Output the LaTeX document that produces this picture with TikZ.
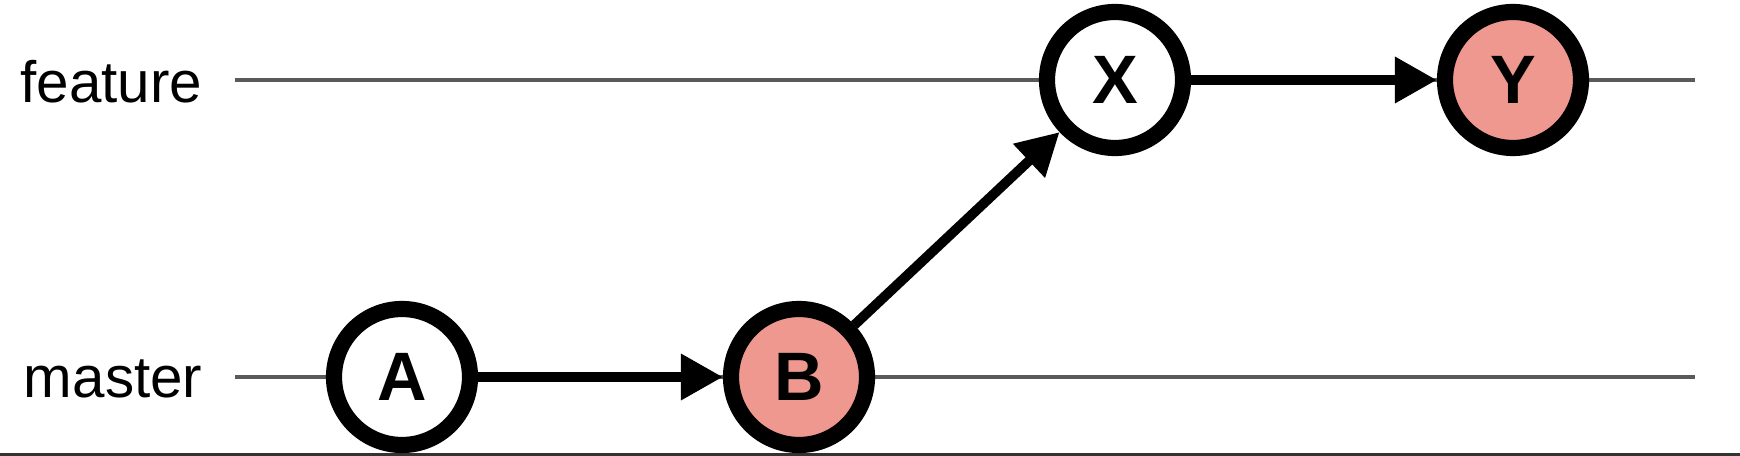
\documentclass[tikz,border=0pt]{standalone}
\usepackage{fontspec}
\setmainfont{Liberation Sans}
\usepackage{tikz}
\usetikzlibrary{arrows.meta}
\definecolor{salmon}{RGB}{238,152,143}
\definecolor{branchgray}{RGB}{90,90,90}
\tikzset{
    commit/.style={circle,draw=black,line width=4.6pt,fill=white,minimum size=1.36cm,inner sep=0pt,font=\fontsize{19.5}{21}\selectfont\bfseries},
    newcommit/.style={commit,fill=salmon},
    branch/.style={branchgray,line width=0.9pt},
    parent/.style={black,line width=2.8pt,-{Triangle[length=4.2mm,width=4.4mm]}},
    branchname/.style={anchor=east,inner sep=0pt,font=\fontsize{16.6}{18}\selectfont}
}
\begin{document}
\begin{tikzpicture}
                    \useasboundingbox (0,0) rectangle (17.4,4.56);
                    \fill[black!80] (0,0) rectangle (17.4,0.03);
                    \node[branchname] (feature) at (2.03,3.74){feature};
                    \node[branchname] (master) at (2.03,0.77){master};
                    \coordinate (fstart) at (2.35,3.76);
                    \coordinate (fend) at (16.95,3.76);
                    \coordinate (mstart) at (2.35,0.79);
                    \coordinate (mend) at (16.95,0.79);
                    \draw[branch] (fstart) -- (fend);
                    \draw[branch] (mstart) -- (mend);
                    \node[commit] (A) at (4.02,0.79){A};
                    \node[newcommit] (B) at (7.99,0.79){B};
                    \node[commit] (X) at (11.15,3.76){X};
                    \node[newcommit] (Y) at (15.13,3.76){Y};
                    \draw[parent] (A) -- (B);
                    \draw[parent] (B) -- (X);
                    \draw[parent] (X) -- (Y);
                \end{tikzpicture}
\end{document}
